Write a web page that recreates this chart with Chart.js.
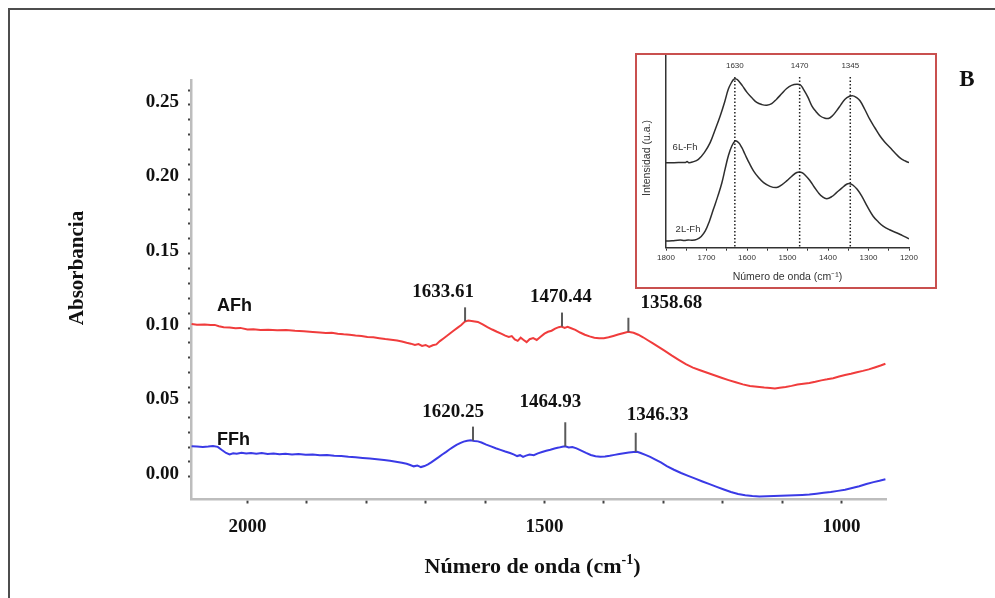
<!DOCTYPE html>
<html>
<head>
<meta charset="utf-8">
<script src="https://cdn.jsdelivr.net/npm/chart.js@4.4.1/dist/chart.umd.min.js"></script>
<style>
  html, body { margin: 0; padding: 0; background: #fff; }
  #wrap { position: relative; width: 995px; height: 598px; overflow: hidden; }
  #frame { position: absolute; left: 8px; top: 8px; width: 1000px; height: 600px;
           border-top: 2px solid #4d4d4d; border-left: 2px solid #4d4d4d; }
  #main { position: absolute; left: 0; top: 0; }
  #insetBox { position: absolute; left: 635px; top: 53px; width: 302px; height: 236px;
              box-sizing: border-box; border: 2px solid #c9504f; background: #fff; }
  #inset { position: absolute; left: 0; top: 0; }
</style>
</head>
<body>
<div id="wrap">
  <canvas id="main" width="995" height="598"></canvas>
  <div id="frame"></div>
  <div id="insetBox"><canvas id="inset" width="298" height="232"></canvas></div>
</div>
<script>
// ---- FTIR spectra (wavenumber cm-1, absorbance) ----
const afhWn = [2094, 2085, 2072, 2062, 2055, 2048, 2040, 2030, 2020, 2012, 2000, 1990, 1978, 1965, 1950, 1935,
  1920, 1905, 1890, 1878, 1868, 1858, 1848, 1838, 1828, 1818, 1808, 1798, 1788, 1778, 1768, 1758, 1748, 1740,
  1732, 1725, 1718, 1712, 1706, 1700, 1694, 1688, 1682, 1676, 1670, 1664, 1658, 1652, 1646, 1640, 1634, 1628,
  1620, 1612, 1604, 1596, 1588, 1580, 1572, 1566, 1560, 1555, 1550, 1545, 1540, 1535, 1530, 1525, 1519, 1513,
  1507, 1500, 1494, 1488, 1482, 1476, 1471, 1466, 1461, 1455, 1448, 1440, 1432, 1424, 1416, 1408, 1400, 1392,
  1384, 1376, 1368, 1359, 1350, 1342, 1334, 1326, 1318, 1308, 1298, 1286, 1274, 1262, 1250, 1238, 1226, 1214,
  1202, 1190, 1178, 1166, 1154, 1142, 1130, 1120, 1112, 1104, 1094, 1084, 1074, 1064, 1054, 1044, 1034, 1024,
  1014, 1004, 994, 984, 974, 964, 954, 944, 934, 926];
const afhAbs = [0.1027, 0.1022, 0.1024, 0.1020, 0.1021, 0.1012, 0.1006, 0.1004, 0.0999, 0.1001, 0.0990, 0.0992,
  0.0987, 0.0989, 0.0985, 0.0986, 0.0981, 0.0978, 0.0974, 0.0970, 0.0966, 0.0968, 0.0962, 0.0958, 0.0955, 0.0950,
  0.0946, 0.0940, 0.0938, 0.0932, 0.0926, 0.0921, 0.0916, 0.0909, 0.0901, 0.0895, 0.0886, 0.0892, 0.0880, 0.0886,
  0.0873, 0.0884, 0.0890, 0.0912, 0.0930, 0.0948, 0.0967, 0.0985, 0.1003, 0.1020, 0.1043, 0.1050, 0.1046, 0.1041,
  0.1024, 0.1006, 0.0990, 0.0975, 0.0961, 0.0949, 0.0940, 0.0946, 0.0924, 0.0914, 0.0935, 0.0920, 0.0905, 0.0925,
  0.0932, 0.0920, 0.0940, 0.0962, 0.0975, 0.0982, 0.0996, 0.1006, 0.1010, 0.1001, 0.1008, 0.0999, 0.0988, 0.0970,
  0.0955, 0.0944, 0.0935, 0.0931, 0.0932, 0.0938, 0.0947, 0.0956, 0.0965, 0.0975, 0.0968, 0.0955, 0.0938, 0.0918,
  0.0898, 0.0873, 0.0848, 0.0816, 0.0786, 0.0757, 0.0734, 0.0716, 0.0699, 0.0683, 0.0666, 0.0650, 0.0635, 0.0621,
  0.0611, 0.0605, 0.0600, 0.0597, 0.0594, 0.0599, 0.0604, 0.0611, 0.0620, 0.0626, 0.0631, 0.0639, 0.0648, 0.0655,
  0.0663, 0.0674, 0.0684, 0.0693, 0.0703, 0.0712, 0.0722, 0.0735, 0.0748, 0.0760];

const ffhWn = [2094, 2085, 2075, 2066, 2058, 2050, 2043, 2036, 2030, 2024, 2018, 2010, 2002, 1994, 1985, 1976,
  1966, 1956, 1946, 1936, 1925, 1914, 1902, 1890, 1878, 1866, 1854, 1842, 1830, 1818, 1806, 1794, 1782, 1770,
  1760, 1750, 1740, 1732, 1726, 1720, 1714, 1708, 1702, 1696, 1690, 1684, 1678, 1672, 1666, 1660, 1654, 1648,
  1642, 1636, 1630, 1624, 1618, 1612, 1606, 1598, 1590, 1582, 1574, 1566, 1558, 1552, 1546, 1541, 1536, 1531,
  1525, 1518, 1511, 1504, 1497, 1490, 1483, 1476, 1470, 1465, 1459, 1453, 1446, 1438, 1430, 1422, 1414, 1406,
  1398, 1390, 1382, 1374, 1366, 1358, 1350, 1344, 1338, 1330, 1322, 1314, 1304, 1294, 1282, 1270, 1258, 1246,
  1234, 1222, 1210, 1198, 1186, 1174, 1162, 1150, 1138, 1126, 1114, 1102, 1090, 1078, 1066, 1054, 1042, 1030,
  1018, 1006, 994, 982, 970, 958, 946, 936, 926];
const ffhAbs = [0.0205, 0.0203, 0.0200, 0.0203, 0.0207, 0.0201, 0.0180, 0.0160, 0.0150, 0.0158, 0.0154, 0.0161,
  0.0156, 0.0160, 0.0155, 0.0159, 0.0153, 0.0157, 0.0152, 0.0155, 0.0150, 0.0153, 0.0148, 0.0150, 0.0145, 0.0147,
  0.0141, 0.0139, 0.0134, 0.0131, 0.0126, 0.0122, 0.0118, 0.0112, 0.0107, 0.0101, 0.0094, 0.0087, 0.0079, 0.0070,
  0.0076, 0.0065, 0.0072, 0.0083, 0.0098, 0.0115, 0.0132, 0.0150, 0.0166, 0.0183, 0.0199, 0.0214, 0.0226, 0.0236,
  0.0242, 0.0246, 0.0241, 0.0238, 0.0230, 0.0216, 0.0204, 0.0192, 0.0181, 0.0170, 0.0160, 0.0150, 0.0139, 0.0145,
  0.0133, 0.0142, 0.0149, 0.0145, 0.0157, 0.0166, 0.0175, 0.0182, 0.0190, 0.0196, 0.0202, 0.0205, 0.0197, 0.0200,
  0.0191, 0.0176, 0.0160, 0.0146, 0.0138, 0.0135, 0.0136, 0.0141, 0.0147, 0.0153, 0.0158, 0.0163, 0.0167, 0.0168,
  0.0160, 0.0147, 0.0134, 0.0117, 0.0096, 0.0072, 0.0047, 0.0025, 0.0006, -0.0013, -0.0032, -0.0050, -0.0068,
  -0.0086, -0.0103, -0.0116, -0.0125, -0.0130, -0.0132, -0.0131, -0.0130, -0.0128, -0.0126, -0.0125, -0.0123,
  -0.0120, -0.0114, -0.0107, -0.0102, -0.0095, -0.0087, -0.0076, -0.0064, -0.0049, -0.0036, -0.0027, -0.0017];

// marked band positions
const afhPeakWn = [1633.61, 1470.44, 1358.68];
const afhPeakAbs = [0.1045, 0.1010, 0.0975];
const ffhPeakWn = [1620.25, 1464.93, 1346.33];
const ffhPeakAbs = [0.0243, 0.0205, 0.0168];

// axes
const xTickValues = [2000, 1900, 1800, 1700, 1600, 1500, 1400, 1300, 1200, 1100, 1000];
const xLabelValues = [2000, 1500, 1000];
const yTickValues = [0.00, 0.01, 0.02, 0.03, 0.04, 0.05, 0.06, 0.07, 0.08, 0.09, 0.10, 0.11, 0.12, 0.13,
  0.14, 0.15, 0.16, 0.17, 0.18, 0.19, 0.20, 0.21, 0.22, 0.23, 0.24, 0.25, 0.26];
const yLabelValues = [0.00, 0.05, 0.10, 0.15, 0.20, 0.25];

// ---- inset: reference spectra (arbitrary intensity) ----
const l6Wn = [1800, 1780, 1760, 1752, 1748, 1744, 1735, 1720, 1705, 1691, 1678, 1666, 1655, 1646, 1638, 1632,
  1626, 1621, 1612, 1600, 1588, 1576, 1563, 1551, 1539, 1527, 1514, 1502, 1490, 1477, 1468, 1461, 1450, 1440,
  1430, 1420, 1410, 1399, 1389, 1379, 1368, 1358, 1348, 1338, 1330, 1321, 1309, 1297, 1284, 1272, 1260, 1247,
  1235, 1223, 1211, 1200];
const l6Int = [0.437, 0.437, 0.438, 0.438, 0.443, 0.437, 0.440, 0.454, 0.490, 0.540, 0.610, 0.678, 0.750, 0.815,
  0.850, 0.866, 0.866, 0.858, 0.834, 0.798, 0.770, 0.746, 0.735, 0.732, 0.740, 0.763, 0.792, 0.818, 0.834, 0.840,
  0.836, 0.815, 0.775, 0.729, 0.700, 0.678, 0.667, 0.664, 0.678, 0.703, 0.735, 0.763, 0.777, 0.780, 0.772, 0.755,
  0.710, 0.660, 0.615, 0.575, 0.543, 0.515, 0.488, 0.463, 0.447, 0.437];
const l2Wn = [1800, 1785, 1765, 1755, 1745, 1735, 1724, 1713, 1703, 1693, 1683, 1672, 1662, 1654, 1646, 1638,
  1629, 1621, 1613, 1605, 1595, 1584, 1572, 1559, 1543, 1527, 1515, 1502, 1490, 1477, 1465, 1455, 1444, 1434,
  1424, 1414, 1403, 1391, 1379, 1366, 1354, 1346, 1338, 1328, 1317, 1303, 1289, 1276, 1264, 1248, 1231, 1216, 1200];
const l2Int = [0.034, 0.036, 0.039, 0.037, 0.040, 0.038, 0.043, 0.058, 0.086, 0.135, 0.197, 0.265, 0.334, 0.405,
  0.472, 0.520, 0.549, 0.540, 0.515, 0.480, 0.437, 0.395, 0.362, 0.334, 0.315, 0.309, 0.322, 0.343, 0.366, 0.386,
  0.386, 0.370, 0.343, 0.312, 0.283, 0.262, 0.252, 0.262, 0.283, 0.306, 0.326, 0.329, 0.321, 0.300, 0.266, 0.212,
  0.163, 0.133, 0.111, 0.092, 0.077, 0.062, 0.046];
const insetPeakWn = [1630, 1470, 1345];
const insetTickValues = [1800, 1750, 1700, 1650, 1600, 1550, 1500, 1450, 1400, 1350, 1300, 1250, 1200];
const insetLabelValues = [1800, 1700, 1600, 1500, 1400, 1300, 1200];

const toPoints = (xs, ys) => xs.map((v, i) => ({ x: v, y: ys[i] }));
const serif = '"Liberation Serif", "Times New Roman", serif';
const sans = '"Liberation Sans", Arial, sans-serif';
const near = (a, b, eps) => Math.abs(a - b) < eps;

// peak markers: tick length and label offset from tick top (px)
const peakSets = [
  { wn: afhPeakWn, abs: afhPeakAbs, tick: [14, 14, 14], dx: [-22, -1, 43], dy: [-15, -15, -15] },
  { wn: ffhPeakWn, abs: ffhPeakAbs, tick: [14, 24, 19], dx: [-20, -15, 22], dy: [-15, -20, -18] }
];

const annotations = {
  id: 'annotations',
  afterDatasetsDraw(chart) {
    const { ctx, chartArea, scales: { x, y } } = chart;
    ctx.save();
    peakSets.forEach(set => {
      set.wn.forEach((w, i) => {
        const px = x.getPixelForValue(w);
        const py = y.getPixelForValue(set.abs[i]);
        const top = py - set.tick[i];
        ctx.strokeStyle = '#5a5a5a';
        ctx.lineWidth = 2;
        ctx.beginPath();
        ctx.moveTo(px, py);
        ctx.lineTo(px, top);
        ctx.stroke();
        ctx.font = 'bold 19px ' + serif;
        ctx.fillStyle = '#111';
        ctx.textAlign = 'center';
        ctx.textBaseline = 'middle';
        ctx.fillText(w.toFixed(2), px + set.dx[i], top + set.dy[i]);
      });
    });

    // series names
    ctx.font = 'bold 18px ' + sans;
    ctx.fillStyle = '#111';
    ctx.textAlign = 'left';
    ctx.fillText('AFh', chartArea.left + 26, y.getPixelForValue(0.1151));
    ctx.fillText('FFh', chartArea.left + 26, y.getPixelForValue(0.0250));
    ctx.restore();
  },
  afterDraw(chart) {
    const { ctx, chartArea } = chart;
    ctx.save();
    ctx.fillStyle = '#111';
    ctx.textBaseline = 'middle';

    // y title
    ctx.save();
    ctx.translate(78, 268);
    ctx.rotate(-Math.PI / 2);
    ctx.font = 'bold 21px ' + serif;
    ctx.textAlign = 'center';
    ctx.fillText('Absorbancia', 0, 0);
    ctx.restore();

    // x title with superscript
    const main = 'Número de onda (cm', sup = '-1', close = ')';
    ctx.font = 'bold 22px ' + serif;
    const wMain = ctx.measureText(main).width;
    const wClose = ctx.measureText(close).width;
    ctx.font = 'bold 14px ' + serif;
    const wSup = ctx.measureText(sup).width;
    let cx = (chartArea.left + chartArea.right) / 2 - 6 - (wMain + wSup + wClose) / 2;
    const cy = 567;
    ctx.textAlign = 'left';
    ctx.font = 'bold 22px ' + serif;
    ctx.fillText(main, cx, cy);
    cx += wMain;
    ctx.font = 'bold 14px ' + serif;
    ctx.fillText(sup, cx, cy - 7);
    cx += wSup;
    ctx.font = 'bold 22px ' + serif;
    ctx.fillText(close, cx, cy);

    // panel letter
    ctx.font = 'bold 23px ' + serif;
    ctx.textAlign = 'center';
    ctx.fillText('B', 967, 80);
    ctx.restore();
  }
};

new Chart(document.getElementById('main'), {
  type: 'line',
  data: {
    datasets: [
      { label: 'AFh', data: toPoints(afhWn, afhAbs), borderColor: '#f03c3c', borderWidth: 2, pointRadius: 0, tension: 0 },
      { label: 'FFh', data: toPoints(ffhWn, ffhAbs), borderColor: '#3a3ae6', borderWidth: 2, pointRadius: 0, tension: 0 }
    ]
  },
  options: {
    responsive: false,
    animation: false,
    events: [],
    layout: { padding: { left: 0, top: 80, right: 109, bottom: 0 } },
    plugins: { legend: { display: false }, tooltip: { enabled: false } },
    scales: {
      x: {
        type: 'linear',
        reverse: true,
        min: 925,
        max: 2095,
        afterFit: (scale) => { scale.height = 98.5; },
        afterBuildTicks: (axis) => { axis.ticks = xTickValues.map(v => ({ value: v })); },
        ticks: {
          autoSkip: false,
          maxRotation: 0,
          padding: 12,
          color: '#111',
          font: { family: serif, size: 19, weight: 'bold' },
          callback: (v) => xLabelValues.includes(v) ? String(v) : ''
        },
        grid: { display: true, drawOnChartArea: false, drawTicks: true, tickLength: 4, tickWidth: 2, tickColor: '#444' },
        border: { display: true, color: '#bdbdbd', width: 2.5 }
      },
      y: {
        min: -0.0153,
        max: 0.2668,
        afterFit: (scale) => { scale.width = 191; },
        afterBuildTicks: (axis) => { axis.ticks = yTickValues.map(v => ({ value: v })); },
        ticks: {
          autoSkip: false,
          padding: 9,
          labelOffset: -3,
          color: '#111',
          font: { family: serif, size: 19, weight: 'bold' },
          callback: (v) => yLabelValues.some(l => near(l, v, 1e-6)) ? v.toFixed(2) : ''
        },
        grid: { display: true, drawOnChartArea: false, drawTicks: true, tickLength: 3, tickWidth: 2, tickColor: '#444' },
        border: { display: true, color: '#bdbdbd', width: 2.5 }
      }
    }
  },
  plugins: [annotations]
});

// ---- inset chart ----
const insetMarks = {
  id: 'insetMarks',
  afterDatasetsDraw(chart) {
    const { ctx, chartArea, scales: { x } } = chart;
    ctx.save();
    ctx.strokeStyle = '#222';
    ctx.lineWidth = 1.5;
    ctx.setLineDash([1.5, 2]);
    ctx.font = '8px ' + sans;
    ctx.fillStyle = '#333';
    ctx.textAlign = 'center';
    ctx.textBaseline = 'middle';
    insetPeakWn.forEach(w => {
      const px = x.getPixelForValue(w);
      ctx.beginPath();
      ctx.moveTo(px, chartArea.top + 22);
      ctx.lineTo(px, chartArea.bottom);
      ctx.stroke();
      ctx.fillText(String(w), px, chartArea.top + 11);
    });
    ctx.setLineDash([]);

    ctx.font = '9.5px ' + sans;
    ctx.fillText('6L-Fh', chartArea.left + 19, 92);
    ctx.fillText('2L-Fh', chartArea.left + 22, 174);

    // axis titles
    ctx.font = '10.5px ' + sans;
    ctx.fillText('Número de onda (cm\u207B\u00B9)', (chartArea.left + chartArea.right) / 2, 222);
    ctx.save();
    ctx.translate(10, 103);
    ctx.rotate(-Math.PI / 2);
    ctx.fillText('Intensidad (u.a.)', 0, 0);
    ctx.restore();
    ctx.restore();
  }
};

new Chart(document.getElementById('inset'), {
  type: 'line',
  data: {
    datasets: [
      { label: '6L-Fh', data: toPoints(l6Wn, l6Int), borderColor: '#2e2e2e', borderWidth: 1.5, pointRadius: 0, tension: 0.4 },
      { label: '2L-Fh', data: toPoints(l2Wn, l2Int), borderColor: '#2e2e2e', borderWidth: 1.5, pointRadius: 0, tension: 0.4 }
    ]
  },
  options: {
    responsive: false,
    animation: false,
    events: [],
    layout: { padding: { left: 0, top: 0, right: 26, bottom: 0 } },
    plugins: { legend: { display: false }, tooltip: { enabled: false } },
    scales: {
      x: {
        type: 'linear',
        reverse: true,
        min: 1200,
        max: 1800,
        afterFit: (scale) => { scale.height = 39.3; },
        afterBuildTicks: (axis) => { axis.ticks = insetTickValues.map(v => ({ value: v })); },
        ticks: {
          autoSkip: false,
          maxRotation: 0,
          padding: 2,
          color: '#333',
          font: { family: sans, size: 8 },
          callback: (v) => insetLabelValues.includes(v) ? String(v) : ''
        },
        grid: { display: true, drawOnChartArea: false, drawTicks: true, tickLength: 3, tickWidth: 1, tickColor: '#333' },
        border: { display: true, color: '#333', width: 1.5 }
      },
      y: {
        min: 0,
        max: 0.99,
        afterFit: (scale) => { scale.width = 29; },
        ticks: { display: false },
        grid: { display: false },
        border: { display: true, color: '#333', width: 1.5 }
      }
    }
  },
  plugins: [insetMarks]
});
</script>
</body>
</html>
